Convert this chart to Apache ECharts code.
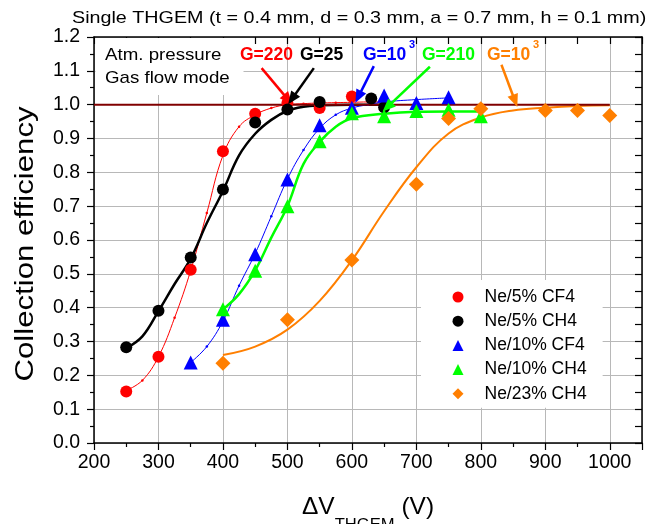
<!DOCTYPE html>
<html><head><meta charset="utf-8">
<script src="https://cdn.jsdelivr.net/npm/echarts@6/dist/echarts.min.js"></script>
<style>html,body{margin:0;padding:0;background:#fff}#c{width:651px;height:524px}</style>
</head><body><div id="c"></div>
<script>
// ---- data ----
const seriesNames = ['Ne/5% CF4', 'Ne/5% CH4', 'Ne/10% CF4', 'Ne/10% CH4', 'Ne/23% CH4'];
const xTicks = [200, 300, 400, 500, 600, 700, 800, 900, 1000];

const ne5cf4 = [[250,0.152],[300,0.255],[350,0.512],[400,0.862],[450,0.973],[500,1.005],[550,0.990],[600,1.024]];
const ne5ch4 = [[250,0.283],[300,0.391],[350,0.548],[400,0.749],[450,0.947],[500,0.986],[550,1.008],[630,1.018],[650,0.992]];
const ne10cf4 = [[350,0.238],[400,0.364],[450,0.558],[500,0.779],[550,0.939],[600,0.991],[650,1.027],[700,1.005],[750,1.022]];
const ne10ch4 = [[400,0.395],[450,0.509],[500,0.700],[550,0.892],[600,0.975],[650,0.966],[700,0.981],[750,0.985],[800,0.966]];
const ne23ch4 = [[400,0.236],[500,0.364],[600,0.541],[700,0.765],[750,0.959],[800,0.988],[900,0.983],[950,0.983],[1000,0.968]];

// fitted curves
const fitNe5cf4 = [[250,0.155],[275,0.185],[300,0.255],[325,0.37],[350,0.51],[375,0.68],[400,0.85],[425,0.935],[450,0.97],[475,0.99],[500,1.0],[525,1.003],[550,1.005],[575,1.006],[600,1.007],[625,1.008],[650,1.008]];
const fitNe5ch4 = [[250,0.28],[275,0.315],[300,0.39],[325,0.47],[350,0.545],[375,0.65],[400,0.745],[425,0.85],[450,0.914],[475,0.955],[500,0.982],[525,0.994],[550,0.998],[600,1.0],[650,1.0]];
const fitNe10cf4 = [[350,0.238],[375,0.285],[400,0.36],[425,0.465],[450,0.56],[475,0.67],[500,0.78],[525,0.866],[550,0.93],[575,0.97],[600,0.99],[625,1.0],[650,1.008],[700,1.015],[750,1.02]];
const fitNe10ch4 = [[400,0.395],[425,0.44],[450,0.51],[475,0.607],[500,0.70],[525,0.825],[550,0.89],[575,0.935],[600,0.96],[650,0.973],[700,0.979],[750,0.98],[800,0.98]];
const fitNe23ch4 = [[400,0.26],[450,0.285],[500,0.335],[550,0.42],[600,0.54],[650,0.685],[700,0.815],[750,0.915],[800,0.962],[850,0.983],[900,0.991],[950,0.996],[1000,0.998]];
const unityLine = [[200,1.0],[1000,1.0]];

// annotation arrows: [start, tip] in data coordinates
const arrowRed = [[460,1.108],[501,1.015]];
const arrowBlack = [[541,1.108],[507,1.017]];
const arrowBlue = [[634,1.114],[610,1.023]];
const arrowGreen = [[721,1.112],[655,0.993]];
const arrowOrange = [[832,1.118],[853,1.011]];

const colors = ['#ff0000', '#000000', '#0000ff', '#00ff00', '#ff7f00'];
const symbols = ['circle', 'circle', 'triangle', 'triangle', 'diamond'];
const FONT = "'Liberation Sans', Arial, sans-serif";

const chart = echarts.init(document.getElementById('c'), null, {renderer: 'canvas'});

function arrowData(a, c) {
  return [[{coord: a[0], lineStyle: {color: c}}, {coord: a[1]}]];
}

const scatterSets = [ne5cf4, ne5ch4, ne10cf4, ne10ch4, ne23ch4];
const scatterSizes = [12, 12, 14, 14, 15];

const series = [
  {type: 'line', name: 'fit1', data: fitNe5cf4, smooth: 0.4, showSymbol: true, symbol: 'circle', symbolSize: 2.5,
   itemStyle: {color: colors[0]}, lineStyle: {color: colors[0], width: 1}, z: 2, silent: true},
  {type: 'line', name: 'fit2', data: fitNe5ch4, smooth: 0.4, showSymbol: false,
   lineStyle: {color: colors[1], width: 2.5}, z: 2, silent: true},
  {type: 'line', name: 'fit3', data: fitNe10cf4, smooth: 0.4, showSymbol: true, symbol: 'circle', symbolSize: 2.5,
   itemStyle: {color: colors[2]}, lineStyle: {color: colors[2], width: 1}, z: 2, silent: true},
  {type: 'line', name: 'fit4', data: fitNe10ch4, smooth: 0.4, showSymbol: false,
   lineStyle: {color: colors[3], width: 2.5}, z: 2, silent: true},
  {type: 'line', name: 'fit5', data: fitNe23ch4, smooth: 0.4, showSymbol: false,
   lineStyle: {color: colors[4], width: 2}, z: 2, silent: true},
  {type: 'line', name: 'unity', data: unityLine, showSymbol: false,
   lineStyle: {color: '#800000', width: 2}, z: 3, silent: true,
   markLine: {
     silent: true, symbol: ['none', 'triangle'], symbolSize: [11, 13], label: {show: false},
     lineStyle: {width: 2.5, type: 'solid'},
     data: [].concat(arrowData(arrowRed, colors[0]), arrowData(arrowBlack, colors[1]),
       arrowData(arrowBlue, colors[2]), arrowData(arrowGreen, colors[3]), arrowData(arrowOrange, colors[4]))
   }}
];
scatterSets.forEach((d, i) => {
  series.push({type: 'scatter', name: seriesNames[i], data: d, symbol: symbols[i], symbolSize: scatterSizes[i],
    itemStyle: {color: colors[i], opacity: 1}, z: 4});
});

const txt = (x, y, text, color, size, bold, sx) => ({
  type: 'text', x: x, y: y, z: 10, scaleX: sx || 1,
  style: {text: text, fill: color, font: (bold ? 'bold ' : '') + size + 'px ' + FONT, verticalAlign: 'middle', align: 'left'}
});

const option = {
  animation: false,
  backgroundColor: '#fff',
  grid: {left: 94, right: 9, top: 37, bottom: 81, containLabel: false, outerBoundsMode: 'none'},
  legend: {
    data: seriesNames.map((n, i) => ({name: n, icon: symbols[i]})),
    orient: 'vertical', left: 421, top: 280,
    backgroundColor: '#fff', padding: [7, 16, 4, 31.5],
    itemWidth: 11, itemHeight: 11, itemGap: 4.2,
    textStyle: {fontFamily: FONT, fontSize: 17.5, color: '#000', lineHeight: 20, padding: [0, 0, 0, 16]},
    z: 5
  },
  xAxis: [{
    type: 'value', min: 200, max: 1050, interval: 100, position: 'bottom',
    name: '{d|ΔV}{s|THGEM}{d| (V)}', nameLocation: 'middle', nameGap: 52,
    nameTextStyle: {rich: {
      d: {fontFamily: FONT, fontSize: 24.5, color: '#000', lineHeight: 28, verticalAlign: 'top'},
      s: {fontFamily: FONT, fontSize: 16.6, color: '#000', lineHeight: 18, verticalAlign: 'top', padding: [22, 0, 0, 0]}
    }},
    axisLine: {onZero: false, lineStyle: {color: '#000', width: 1.5}},
    axisTick: {inside: false, length: 7, lineStyle: {color: '#000', width: 1.2}},
    minorTick: {show: true, splitNumber: 2, length: 4, lineStyle: {color: '#000', width: 1.2}},
    axisLabel: {fontFamily: FONT, fontSize: 19.5, color: '#000', margin: 10,
      formatter: v => (xTicks.indexOf(v) >= 0 ? String(v) : '')},
    splitLine: {show: true, lineStyle: {color: '#b8b8b8', width: 1}}
  }, {
    type: 'value', min: 200, max: 1050, interval: 50, position: 'top',
    axisLine: {onZero: false, lineStyle: {color: '#000', width: 1.5}},
    axisTick: {inside: true, length: 7, lineStyle: {color: '#000', width: 1.2}},
    axisLabel: {show: false}, splitLine: {show: false}
  }],
  yAxis: [{
    type: 'value', min: 0, max: 1.2, interval: 0.1, position: 'left',
    axisLine: {onZero: false, lineStyle: {color: '#000', width: 1.5}},
    axisTick: {inside: false, length: 7, lineStyle: {color: '#000', width: 1.2}},
    minorTick: {show: true, splitNumber: 2, length: 4, lineStyle: {color: '#000', width: 1.2}},
    axisLabel: {fontFamily: FONT, fontSize: 19.5, color: '#000', margin: 14, formatter: v => v.toFixed(1)},
    splitLine: {show: true, lineStyle: {color: '#b8b8b8', width: 1}}
  }, {
    type: 'value', min: 0, max: 1.2, interval: 0.05, position: 'right',
    axisLine: {onZero: false, lineStyle: {color: '#000', width: 1.5}},
    axisTick: {inside: true, length: 7, lineStyle: {color: '#000', width: 1.2}},
    axisLabel: {show: false}, splitLine: {show: false}
  }],
  graphic: [
    {type: 'rect', shape: {x: 95.5, y: 38, width: 148, height: 57}, style: {fill: '#fff'}, z: 1, silent: true},
    // chart title
    {type: 'text', x: 72, y: 18, z: 10, scaleX: 1.16,
     style: {text: 'Single THGEM (t = 0.4 mm, d = 0.3 mm, a = 0.7 mm, h = 0.1 mm)', fill: '#000',
       font: '17px ' + FONT, verticalAlign: 'middle', align: 'left'}},
    // y axis title
    {type: 'text', x: 26, y: 244, z: 10, rotation: Math.PI / 2, scaleX: 1.2,
     style: {text: 'Collection efficiency', fill: '#000', font: '26px ' + FONT, verticalAlign: 'middle', align: 'center'}},
    txt(105, 55, 'Atm. pressure', '#000', 17, false, 1.1),
    txt(105, 78, 'Gas flow mode', '#000', 17, false, 1.1),
    txt(240, 55, 'G=220', colors[0], 17.5, true),
    txt(300, 55, 'G=25', colors[1], 17.5, true),
    txt(363, 55, 'G=10', colors[2], 17.5, true),
    txt(409, 45, '3', colors[2], 11, true),
    txt(422, 55, 'G=210', colors[3], 17.5, true),
    txt(487, 55, 'G=10', colors[4], 17.5, true),
    txt(533, 45, '3', colors[4], 11, true)
  ],
  series: series
};
chart.setOption(option);
</script>
</body></html>
